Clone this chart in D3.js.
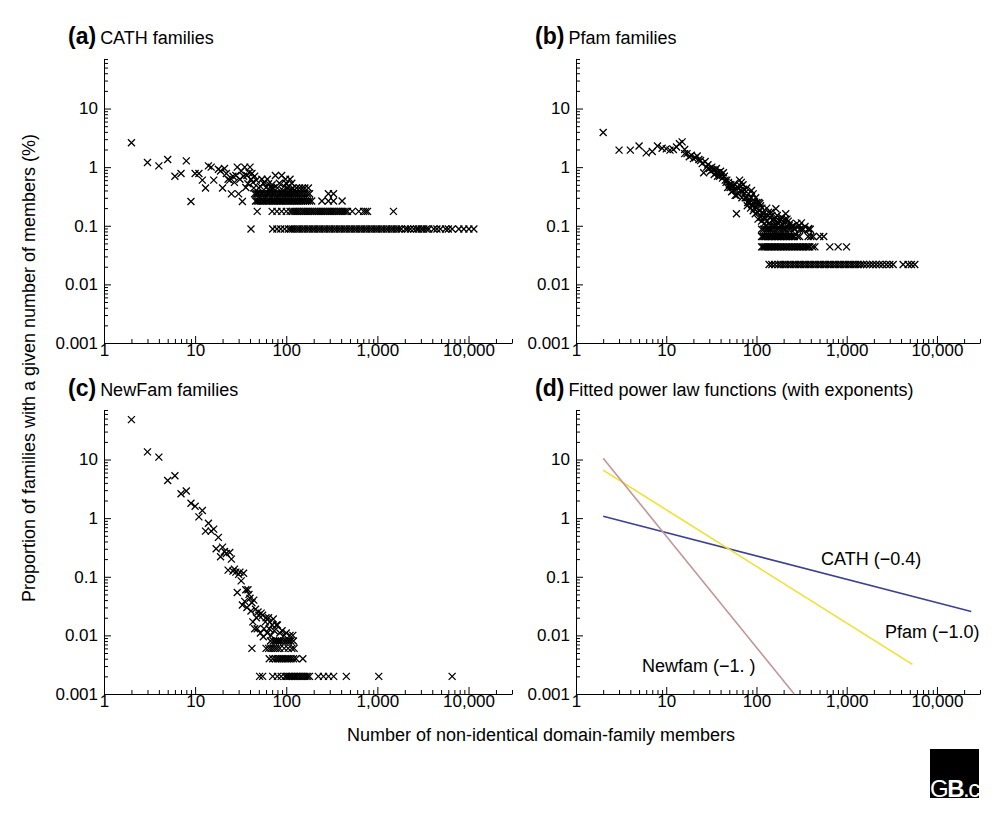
<!DOCTYPE html>
<html><head><meta charset="utf-8">
<script src="https://cdn.jsdelivr.net/npm/d3@7"></script>
<style>
html,body{margin:0;padding:0;background:#fff;}
svg{display:block;font-family:"Liberation Sans",Arial,Helvetica,sans-serif;}
</style></head><body>
<svg id="chart" width="997" height="815"></svg>
<script>
// ---------- tick labels ----------
const xTickValues = [1, 10, 100, 1000, 10000];
const xTickLabels = ["1", "10", "100", "1,000", "10,000"];
const yTickValues = [0.001, 0.01, 0.1, 1, 10];
const yTickLabels = ["0.001", "0.01", "0.1", "1", "10"];
const xDomain = [1, 30000];
const yDomain = [0.001, 70];

// ---------- panel titles ----------
const panelLetters = ["(a)", "(b)", "(c)", "(d)"];
const panelTitles = ["CATH families", "Pfam families", "NewFam families", "Fitted power law functions (with exponents)"];

// ---------- (a) CATH ----------
const cathX = [2,3,4,5,6,7,8,9,10,11,12,13,14,15,16,18,19,20,21,22,23,24,25,26,27,28,29,30,31,32,33,34,35,36,37,38,39,40,41,42,43,44,45,47,48,50,52,54,56,58,60,62,64,66,68,70,72,76,80,84,89,92,95,98,100,103,106,110,112,115,118,122,130,140,150,160,175];
const cathY = [2.6,1.2,1.05,1.35,0.7,0.78,1.28,0.26,0.78,0.78,0.6,0.44,1.05,1.0,0.6,0.92,0.86,0.44,0.95,0.78,0.62,0.6,0.35,0.7,0.55,0.72,1.0,0.35,0.62,0.86,0.26,0.7,1.0,0.45,0.72,0.52,0.8,1.0,0.62,0.78,0.55,0.44,0.7,0.6,0.35,0.44,0.47,0.62,0.53,0.55,0.45,0.62,0.52,0.4,0.45,0.5,0.44,0.72,0.44,0.53,0.72,0.4,0.47,0.62,0.53,0.44,0.47,0.62,0.4,0.53,0.44,0.4,0.44,0.44,0.44,0.44,0.44];
const cathRowLevels = [0.088, 0.176, 0.264, 0.352];
const cathRow1X = [41,71,79,87,96,106,112,118,125,133,141,150,160,170,181,193,205,218,232,247,263,280,298,317,338,360,383,408,434,462,492,524,558,594,632,673,716,762,811,863,919,978,1040,1110,1180,1260,1340,1430,1520,1620,1720,1830,2030,2150,2300,2510,2700,2840,3050,3230,3450,3660,4160,4500,4920,5590,6000,6620,7830,8890,10090,11440];
const cathRow2X = [48,70,79,89,100,110,116,122,128,134,140,147,154,161,169,177,186,195,204,214,224,235,246,258,270,283,296,310,325,340,356,373,390,410,430,450,470,530,625,705,745,780,1500];
const cathRow3X = [46,48,50,52,55,57,60,62,65,68,71,74,77,80,84,87,91,95,99,103,108,113,118,123,129,135,141,148,155,163,171,180,190,246,290,330,410];
const cathRow4X = [45,47,50,53,55,58,61,64,66,70,73,76,80,84,88,92,97,102,107,112,118,124,130,137,144,151,160,170,180,290,330];

// ---------- (b) Pfam ----------
const pfamX = [2,3,4,5,6,7,8,9,10,11,12,13,14,15,16,16,17,18,19,20,21,22,23,24,25,26,27,28,29,30,31,32,33,34,35,36,36,37,38,39,40,41,42,43,44,45,46,47,48,49,50,51,52,53,54,55,56,57,58,59,60,60,62,63,65,66,67,68,69,70,71,72,74,75,77,78,79,80,82,83,84,86,87,88,89,90,92,92,94,95,97,98,100,101,103,104,106,108,109,111,112,114,115,117,119,121,122,125,127,130,132,134,136,138,141,143,145,148,150,153,155,158,160,164,168,170,172,175,180,185,188,190,195,200,203,208,211,218,225,230,235,245,255,260,280,300,315,345,380];
const pfamY = [3.9,1.95,1.95,2.3,1.75,1.85,2.3,2.1,2.05,1.95,2.0,2.2,2.5,2.7,2.0,1.7,1.7,1.5,1.6,1.4,1.45,1.55,1.35,1.3,1.15,0.8,1.25,1.0,1.1,0.95,0.85,1.0,0.9,0.75,0.9,0.8,0.95,0.7,0.8,0.7,0.85,0.75,0.65,0.8,0.7,0.6,0.55,0.6,0.45,0.55,0.5,0.45,0.5,0.38,0.45,0.4,0.48,0.52,0.33,0.42,0.16,0.33,0.45,0.35,0.6,0.4,0.47,0.55,0.3,0.38,0.5,0.42,0.36,0.3,0.3,0.44,0.22,0.25,0.35,0.25,0.28,0.2,0.3,0.4,0.23,0.22,0.18,0.35,0.2,0.26,0.16,0.3,0.2,0.25,0.17,0.13,0.25,0.18,0.24,0.22,0.14,0.12,0.2,0.17,0.16,0.14,0.11,0.13,0.1,0.2,0.12,0.15,0.17,0.11,0.14,0.1,0.17,0.15,0.125,0.13,0.1,0.1,0.13,0.195,0.1,0.15,0.13,0.11,0.12,0.1,0.13,0.14,0.105,0.09,0.11,0.13,0.16,0.13,0.12,0.1,0.11,0.097,0.1,0.09,0.11,0.1,0.112,0.097,0.09];
const pfamRowLevels = [0.0218, 0.0436, 0.0654, 0.0872];
const pfamRow1X = [138,148,160,174,185,197,210,224,239,255,272,290,309,329,351,374,399,425,453,483,515,549,585,624,665,709,756,806,859,916,976,1040,1110,1180,1260,1340,1430,1530,1660,1800,1950,2120,2300,2500,2750,3000,3270,4220,4790,5210,5680];
const pfamRow2X = [114,118,122,126,131,136,141,146,152,158,164,170,177,184,191,199,207,215,224,233,243,253,263,274,285,297,309,322,335,349,363,378,390,420,444,650,803,995];
const pfamRow3X = [114,118,122,126,131,136,141,146,152,158,164,170,177,184,191,199,207,215,224,233,243,253,263,285,300,374,400,425,503,556];
const pfamRow4X = [114,120,127,133,140,147,155,165,175,186,197,210,225,240,265,300,315,330,375,395];

// ---------- (c) NewFam ----------
const newfamX = [2,3,4,5,6,7,8,9,10,11,12,13,14,15,16,17,18,19,20,21,22,23,24,25,26,27,28,29,30,31,32,33,34,35,36,37,38,39,40,41,42,43,44,45,46,47,48,49,50,52,53,55,56,57,59,60,62,64,65,66,68,70,72,74,78,80,85,90,95,100,110,118];
const newfamY = [48,13.5,11,4.4,5.3,2.6,2.9,1.8,1.6,1.05,1.35,0.6,0.82,0.6,0.65,0.3,0.47,0.22,0.32,0.27,0.25,0.13,0.26,0.2,0.125,0.135,0.12,0.054,0.11,0.12,0.085,0.033,0.115,0.038,0.06,0.03,0.06,0.05,0.043,0.026,0.036,0.017,0.04,0.013,0.028,0.02,0.013,0.025,0.022,0.011,0.024,0.022,0.0095,0.013,0.017,0.02,0.011,0.02,0.013,0.017,0.01,0.015,0.019,0.012,0.015,0.015,0.011,0.012,0.01,0.011,0.01,0.01];
const newfamRowLevels = [0.002, 0.004, 0.006, 0.008];
const newfamRow1X = [51,55,71,80,88,97,101,105,109,113,118,123,128,133,139,145,151,158,165,172,180,225,256,291,331,456,1035,6610];
const newfamRow2X = [65,71,76,80,84,88,92,97,102,107,113,120,128,152];
const newfamRow3X = [42,60,64,68,72,76,80,85,95,105,115,122];
const newfamRow4X = [67,72,76,80,84,88,94,100,106,112,120];

// ---------- (d) fitted power laws ----------
const fitNames = ["CATH (\u22120.4)", "Pfam (\u22121.0)", "Newfam (\u22121. )"];
const fitStartX = [2, 2, 2];
const fitStartY = [1.08, 6.6, 10.5];
const fitEndX = [24000, 5350, 262];
const fitEndY = [0.0255, 0.0032, 0.001];
const fitColors = ["#3d4290", "#f0e030", "#c29696"];

// ---------- layout ----------
const svg = d3.select("#chart");
const panels = [
  {x0:104, x1:512, y0:59,  y1:343, tx:68,  ty:44},
  {x0:576, x1:980, y0:59,  y1:343, tx:535, ty:44},
  {x0:104, x1:512, y0:410, y1:694, tx:68,  ty:396},
  {x0:576, x1:980, y0:410, y1:694, tx:535, ty:396}
];
const FONT = '"Liberation Sans", Arial, Helvetica, sans-serif';

function minorTicks(lo, hi) {
  const out = [];
  for (let e = -3; e <= 4; e++) {
    for (let k = 2; k <= 9; k++) {
      const v = +(k * Math.pow(10, e)).toPrecision(3);
      if (v >= lo * 0.999 && v <= hi * 1.001) out.push(v);
    }
  }
  return out;
}

function drawPanel(p, i) {
  const x = d3.scaleLog().domain(xDomain).range([p.x0, p.x1]);
  const y = d3.scaleLog().domain(yDomain).range([p.y1, p.y0]);
  const g = svg.append("g");

  // title
  const t = g.append("text").attr("x", p.tx).attr("y", p.ty).attr("fill", "#000").attr("font-family", FONT);
  t.append("tspan").attr("font-weight", "bold").attr("font-size", 23).text(panelLetters[i]);
  t.append("tspan").attr("dx", 4).attr("font-size", 18).text(panelTitles[i]);

  // x axis
  const gx = g.append("g").attr("transform", `translate(0,${p.y1})`)
    .call(d3.axisBottom(x).tickValues(xTickValues).tickFormat((d, j) => xTickLabels[j])
      .tickSizeInner(-7).tickSizeOuter(0).tickPadding(1));
  gx.attr("font-size", 17).attr("font-family", FONT);
  g.append("g").attr("transform", `translate(0,${p.y1})`)
    .call(d3.axisBottom(x).tickValues(minorTicks(xDomain[0], xDomain[1]).filter(v => xTickValues.indexOf(v) < 0))
      .tickFormat("").tickSizeInner(-4).tickSizeOuter(0))
    .call(s => s.select(".domain").remove());

  // y axis
  const gy = g.append("g").attr("transform", `translate(${p.x0},0)`)
    .call(d3.axisLeft(y).tickValues(yTickValues).tickFormat((d, j) => yTickLabels[j])
      .tickSizeInner(-7).tickSizeOuter(0).tickPadding(6));
  gy.attr("font-size", 17).attr("font-family", FONT);
  g.append("g").attr("transform", `translate(${p.x0},0)`)
    .call(d3.axisLeft(y).tickValues(minorTicks(yDomain[0], yDomain[1]).filter(v => yTickValues.indexOf(v) < 0))
      .tickFormat("").tickSizeInner(-4).tickSizeOuter(0))
    .call(s => s.select(".domain").remove());

  return {g, x, y};
}

const cross = "M-3.5,-3.5L3.5,3.5M-3.5,3.5L3.5,-3.5";
function drawPoints(ctx, xs, ys, rows, levels) {
  const pts = xs.map((v, j) => [v, ys[j]]);
  rows.forEach((r, k) => r.forEach(v => pts.push([v, levels[k]])));
  ctx.g.append("g").selectAll("path").data(pts).join("path")
    .attr("transform", d => `translate(${ctx.x(d[0])},${ctx.y(d[1])})`)
    .attr("d", cross).attr("fill", "none").attr("stroke", "#000").attr("stroke-width", 1.3);
}

const pa = drawPanel(panels[0], 0);
drawPoints(pa, cathX, cathY, [cathRow1X, cathRow2X, cathRow3X, cathRow4X], cathRowLevels);
const pb = drawPanel(panels[1], 1);
drawPoints(pb, pfamX, pfamY, [pfamRow1X, pfamRow2X, pfamRow3X, pfamRow4X], pfamRowLevels);
const pc = drawPanel(panels[2], 2);
drawPoints(pc, newfamX, newfamY, [newfamRow1X, newfamRow2X, newfamRow3X, newfamRow4X], newfamRowLevels);
const pd = drawPanel(panels[3], 3);

const line = d3.line().x(d => pd.x(d[0])).y(d => pd.y(d[1]));
const fitOrder = [0, 1, 2];
fitOrder.forEach(j => {
  pd.g.append("path")
    .attr("d", line([[fitStartX[j], fitStartY[j]], [fitEndX[j], fitEndY[j]]]))
    .attr("fill", "none").attr("stroke", fitColors[j]).attr("stroke-width", 1.6);
});
const fitLabelPos = [[821, 565], [885, 638], [642, 672]];
fitNames.forEach((n, j) => {
  pd.g.append("text").attr("x", fitLabelPos[j][0]).attr("y", fitLabelPos[j][1])
    .attr("font-size", 18).attr("font-family", FONT).attr("fill", "#000").text(n);
});

// shared axis titles
svg.append("text").attr("x", 541).attr("y", 741).attr("text-anchor", "middle")
  .attr("font-size", 18).attr("font-family", FONT).attr("fill", "#000")
  .text("Number of non-identical domain-family members");
svg.append("text").attr("transform", "translate(35,368) rotate(-90)").attr("text-anchor", "middle")
  .attr("font-size", 18).attr("font-family", FONT).attr("fill", "#000")
  .text("Proportion of families with a given number of members (%)");

// logo
const logo = svg.append("g");
logo.append("clipPath").attr("id", "logoclip").append("rect").attr("x", 930).attr("y", 749).attr("width", 49).attr("height", 49);
logo.append("rect").attr("x", 930).attr("y", 749).attr("width", 49).attr("height", 49).attr("fill", "#000");
const lt = logo.append("text").attr("clip-path", "url(#logoclip)").attr("x", 930).attr("y", 797)
  .attr("font-size", 24).attr("font-family", FONT).attr("fill", "#fff").attr("letter-spacing", -1.5);
lt.append("tspan").text("G");
lt.append("tspan").attr("font-weight", "bold").text("B");
lt.append("tspan").text(".c");
</script>
</body></html>
